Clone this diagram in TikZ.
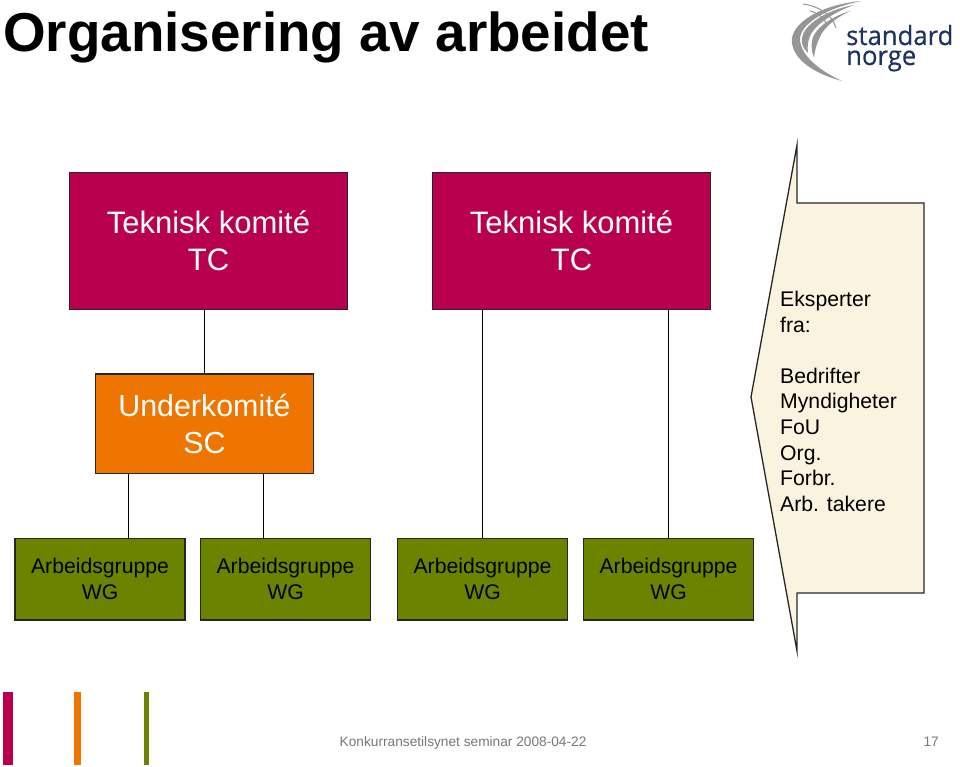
\documentclass[tikz,border=0pt]{standalone}
\usepackage{fontspec}
\setmainfont{Liberation Sans}
\newfontfamily\logofont[FakeBold=0.4]{Open Sans}
\definecolor{tccol}{RGB}{184,0,78}
\definecolor{sccol}{RGB}{238,118,0}
\definecolor{wgcol}{RGB}{107,132,0}
\definecolor{notecol}{RGB}{250,243,223}
\definecolor{logonavy}{RGB}{30,50,95}
\definecolor{logogray}{RGB}{150,150,150}
\definecolor{footgray}{RGB}{120,120,120}
\tikzset{
  box/.style={draw=black!85,line width=1.3pt,minimum height=#1,inner sep=0pt,align=center,text=white},
  tcbox/.style={box=136.7pt,fill=tccol,minimum width=278pt,font=\fontsize{31}{37}\selectfont},
  scbox/.style={box=99.7pt,fill=sccol,minimum width=218pt,font=\fontsize{30.4}{37}\selectfont},
  wgbox/.style={box=81.7pt,fill=wgcol,minimum width=170pt,text=black,font=\fontsize{21.2}{26}\selectfont},
  link/.style={draw=black,line width=1.3pt},
  strip/.style={inner sep=0pt,minimum height=73pt},
  swoosh/.style={fill=logogray,draw=none}
}
\begin{document}
\begin{tikzpicture}[x=1pt,y=-1pt]
\useasboundingbox (0,0) rectangle (960,767);
\fill[white] (0,0) rectangle (960,767);

% heading
\node[anchor=base west,inner sep=0pt,font=\bfseries\fontsize{54.8}{60}\selectfont] (title) at (3,52) {Organisering av arbeidet};

% logo: swooshes and wordmark
\fill[swoosh] (862,1) .. controls (825,4) and (795,20) .. (792,38) .. controls (790,55) and (808,72) .. (842,81) .. controls (818,70) and (801,55) .. (800,40) .. controls (799,25) and (825,8) .. (862,1) -- cycle;
\fill[swoosh] (854,5) .. controls (825,10) and (803,26) .. (802,38) .. controls (801,44) and (803,48) .. (808,53) .. controls (807,46) and (808,40) .. (811,34) .. controls (817,24) and (832,13) .. (854,5) -- cycle;
\fill[swoosh] (850,11) .. controls (830,17) and (813,30) .. (812,41) .. controls (811,47) and (812,52) .. (814,58) .. controls (815,48) and (818,40) .. (822,33) .. controls (828,24) and (838,17) .. (850,11) -- cycle;
\draw[logogray,line width=1pt] (803,4) .. controls (818,6) and (832,14) .. (836,28);
\draw[logogray,line width=1pt] (810,11) .. controls (818,13) and (825,18) .. (827,26);
\node[anchor=base west,inner sep=0pt,xscale=.97,align=left,text=logonavy,font=\logofont\fontsize{26.5}{20}\selectfont] (logo) at (846,65) {standard\\norge};

% committees
\node[tcbox] (tc1) at (208.5,240.8) {Teknisk komité\\TC};
\node[tcbox] (tc2) at (571.5,240.8) {Teknisk komité\\TC};
\node[scbox] (sc) at (204.5,423.8) {Underkomité\\SC};
\node[wgbox] (wg1) at (100,579.2) {Arbeidsgruppe\\WG};
\node[wgbox] (wg2) at (285.5,579.2) {Arbeidsgruppe\\WG};
\node[wgbox] (wg3) at (482.5,579.2) {Arbeidsgruppe\\WG};
\node[wgbox] (wg4) at (668.5,579.2) {Arbeidsgruppe\\WG};

% reporting lines
\draw[link] (sc.north |- tc1.south) -- (sc.north);
\draw[link] ([xshift=-76pt]sc.south) -- ([xshift=-76pt]sc.south |- wg1.north);
\draw[link] ([xshift=59pt]sc.south) -- ([xshift=59pt]sc.south |- wg2.north);
\draw[link] (wg3.north |- tc2.south) -- (wg3.north);
\draw[link] (wg4.north |- tc2.south) -- (wg4.north);

% experts callout
\draw[fill=notecol,draw=black!85,line width=1.3pt,line join=miter,miter limit=20]
  (797,145) -- (797,203) -- (924,203) -- (924,593) -- (797,593) -- (797,651) -- (751,397) -- cycle;
\node[anchor=north west,inner sep=0pt,align=left,font=\fontsize{21.2}{25.6}\selectfont] (experts) at (780,291)
  {Eksperter\\fra:\\[25.6pt]Bedrifter\\Myndigheter\\FoU\\Org.\\Forbr.\\Arb. takere};

% footer
\node[strip,fill=tccol,minimum width=10pt] (s1) at (8,728.5) {};
\node[strip,fill=sccol,minimum width=7pt] (s2) at (77.5,728.5) {};
\node[strip,fill=wgcol,minimum width=5pt] (s3) at (146.5,728.5) {};
\node[anchor=base west,inner sep=0pt,text=footgray,font=\fontsize{13.7}{16}\selectfont] (foot) at (339.5,746) {Konkurransetilsynet seminar 2008-04-22};
\node[anchor=base east,inner sep=0pt,text=footgray,font=\fontsize{13.7}{16}\selectfont] (page) at (939,746) {17};
\end{tikzpicture}
\end{document}
